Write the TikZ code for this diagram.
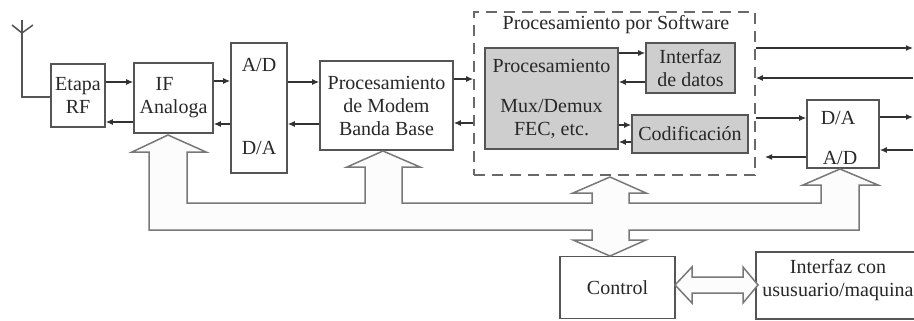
\documentclass[tikz,border=0pt]{standalone}
\usepackage{fontspec}
\setmainfont{Liberation Serif}
\usetikzlibrary{arrows.meta}
\definecolor{boxline}{RGB}{85,85,85}
\definecolor{arrline}{RGB}{50,50,50}
\definecolor{procfill}{RGB}{206,206,206}
\definecolor{busline}{RGB}{120,120,120}
\definecolor{busfill}{RGB}{252,252,252}
\definecolor{dashline}{RGB}{105,105,105}
\definecolor{txtcol}{RGB}{40,40,40}
\begin{document}
\begin{tikzpicture}[x=1pt,y=-1pt,
  txt/.style={font=\fontsize{20}{23}\selectfont, text=txtcol, align=center, inner sep=0pt},
  blk/.style={txt, draw=boxline, line width=1.6pt, fill=white, minimum width=#1},
  gblk/.style={blk=#1, fill=procfill},
  swbox/.style={draw=dashline, line width=1.6pt, dash pattern=on 11pt off 7pt, inner sep=0pt},
  arr/.style={draw=arrline, line width=1.2pt, -{Latex[length=7pt,width=6pt]}},
  bus/.style={draw=busline, line width=1.5pt, fill=busfill, line join=miter},
  wire/.style={draw=boxline, line width=1.5pt}
]
\useasboundingbox (0,0) rectangle (914,321);

% antenna
\coordinate (anttop) at (22,20);
\coordinate (antl) at (12,25);
\coordinate (antr) at (33,25);
\coordinate (antc) at (22,33);
\coordinate (antbot) at (22,97);

% blocks
\node[blk=54pt, minimum height=63pt] (etapa) at (78,95.5) {Etapa\\RF};
\node[blk=79pt, minimum height=70pt] (ifa) at (173.5,98) {IF\hspace*{0.9em}\\Analoga};
\node[blk=56pt, minimum height=130pt] (adc) at (259,108) {};
\node[txt] (adtop) at (259,65) {A/D};
\node[txt] (adbot) at (259,148) {D/A};
\node[blk=133pt, minimum height=89pt] (modem) at (386.5,105.5) {Procesamiento\\de Modem\\Banda Base};

\node[swbox, minimum width=281pt, minimum height=163pt] (sw) at (614.5,93.5) {};
\node[txt] (swtitle) at (616,25) {Procesamiento por Software};
\node[gblk=133pt, minimum height=101pt] (proc) at (551.5,98.5) {Procesamiento\\[17pt]Mux/Demux\\FEC, etc.};
\node[gblk=89pt, minimum height=50pt] (idatos) at (690.5,68) {Interfaz\\de datos};
\node[gblk=116pt, minimum height=38pt] (codif) at (690,134) {Codificación};

\node[blk=72pt, minimum height=68pt] (dac) at (843,134) {};
\node[txt] (dactop) at (838,118) {D/A};
\node[txt] (dacbot) at (840,158) {A/D};

\node[blk=115pt, minimum height=62pt] (control) at (617.5,287.5) {Control};
\node[blk=160pt, minimum height=67pt, anchor=west] (uim) at (755,285.5) {};
\node[txt] (uimtext) at (838,280) {Interfaz con\\ususuario/maquina};

% antenna wiring
\draw[wire] (antl) -- (antc) -- (antr);
\draw[wire] (anttop) -- (antbot) -- (antbot -| etapa.west);

% row helpers
\coordinate (y48) at (0,48);  \coordinate (y53) at (0,53);
\coordinate (y78) at (0,78);  \coordinate (y79) at (0,79);
\coordinate (y81) at (0,81);  \coordinate (y82) at (0,82);
\coordinate (y117) at (0,117); \coordinate (y118) at (0,118);
\coordinate (y122) at (0,122); \coordinate (y123) at (0,123);
\coordinate (y124) at (0,124); \coordinate (y125) at (0,125);
\coordinate (y142) at (0,142); \coordinate (y150) at (0,150);
\coordinate (y157) at (0,157);
\coordinate (rx) at (913,0);
\coordinate (dacl) at (765,157);

% signal arrows
\draw[arr] (etapa.east |- y82) -- (ifa.west |- y82);
\draw[arr] (ifa.west |- y122) -- (etapa.east |- y122);
\draw[arr] (ifa.east |- y81) -- (adc.west |- y81);
\draw[arr] (adc.west |- y124) -- (ifa.east |- y124);
\draw[arr] (adc.east |- y82) -- (modem.west |- y82);
\draw[arr] (modem.west |- y124) -- (adc.east |- y124);
\draw[arr] (modem.east |- y79) -- (sw.west |- y79);
\draw[arr] (sw.west |- y123) -- (modem.east |- y123);
\draw[arr] (proc.east |- y53) -- (idatos.west |- y53);
\draw[arr] (idatos.west |- y82) -- (proc.east |- y82);
\draw[arr] (proc.east |- y125) -- (codif.west |- y125);
\draw[arr] (codif.west |- y142) -- (proc.east |- y142);
\draw[arr] (sw.east |- y48) -- (rx |- y48);
\draw[arr] (rx |- y78) -- (sw.east |- y78);
\draw[arr] (sw.east |- y118) -- (dac.west |- y118);
\draw[arr] (dac.west |- y157) -- (dacl);
\draw[arr] (dac.east |- y117) -- (rx |- y117);
\draw[arr] (rx |- y150) -- (dac.east |- y150);

% control bus
\draw[bus] (168,135) -- (206,152) -- (187,152) -- (187,203) -- (365,203) -- (365,167)
  -- (347,167) -- (383,151) -- (420,167) -- (402,167) -- (402,203) -- (592,203)
  -- (592,193) -- (573,193) -- (610,177) -- (646,193) -- (629,193) -- (629,203)
  -- (821,203) -- (821,185) -- (803,185) -- (840,169) -- (878,185) -- (859,185)
  -- (859,230) -- (629,230) -- (629,240) -- (646,240) -- (610,256) -- (573,240)
  -- (592,240) -- (592,230) -- (149,230) -- (149,152) -- (132,152) -- cycle;

% control <-> user interface
\draw[bus] (675,285) -- (692,267) -- (692,277) -- (743,277) -- (743,267) -- (758,285)
  -- (743,303) -- (743,293) -- (692,293) -- (692,303) -- cycle;
\end{tikzpicture}
\end{document}
